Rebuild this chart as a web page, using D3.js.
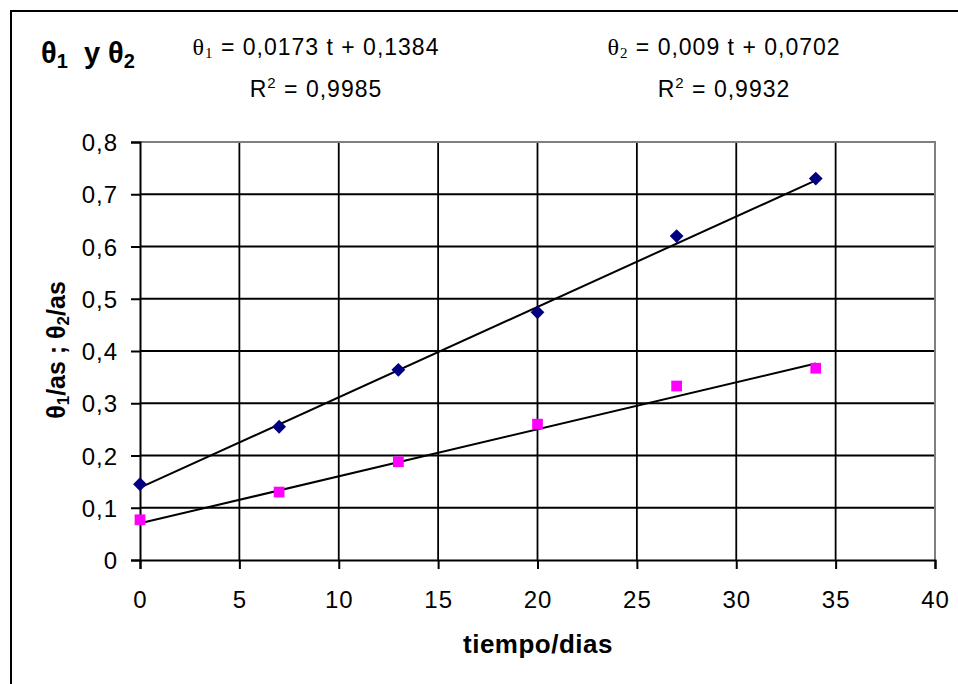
<!DOCTYPE html>
<html>
<head>
<meta charset="utf-8">
<script src="https://d3js.org/d3.v7.min.js"></script>
<style>
  body { margin: 0; background: #fff; }
  text { font-family: Arial, "Liberation Sans", sans-serif; }
</style>
</head>
<body>
<div id="chart-area"></div>
<script>
// data
var tiempo = [0, 7, 13, 20, 27, 34];
var theta1 = [0.145, 0.255, 0.364, 0.474, 0.620, 0.730];
var theta2 = [0.077, 0.130, 0.188, 0.260, 0.333, 0.367];
// trend lines (slope, intercept) as printed on the chart
var trend1 = [0.0173, 0.1384];
var trend2 = [0.009, 0.0702];
var xTicks = [0, 5, 10, 15, 20, 25, 30, 35, 40];
var yTicks = [0, 0.1, 0.2, 0.3, 0.4, 0.5, 0.6, 0.7, 0.8];

var W = 958, H = 684;
var margin = { left: 140, top: 142, right: 23, bottom: 124 };
var width = W - margin.left - margin.right,
    height = H - margin.top - margin.bottom;

var svg = d3.select("#chart-area").append("svg")
    .attr("width", W)
    .attr("height", H);

// outer frame (cut by the picture on right and bottom)
svg.append("rect")
    .attr("x", 11).attr("y", 11)
    .attr("width", W + 20).attr("height", H + 20)
    .attr("fill", "none")
    .attr("stroke", "#000")
    .attr("stroke-width", 2);

var g = svg.append("g")
    .attr("transform", "translate(" + margin.left + "," + margin.top + ")");

var x = d3.scaleLinear().domain([0, 40]).range([0, width]);
var y = d3.scaleLinear().domain([0, 0.8]).range([height, 0]);

var fmt = function(d){ return String(d3.format(".1~f")(d)).replace(".", ","); };

// gridlines
g.selectAll(".hgrid").data(yTicks.slice(1, -1)).enter().append("line")
    .attr("x1", 0).attr("x2", width)
    .attr("y1", function(d){ return y(d); })
    .attr("y2", function(d){ return y(d); })
    .attr("stroke", "#000").attr("stroke-width", 1.8);

g.selectAll(".vgrid").data(xTicks.slice(1, -1)).enter().append("line")
    .attr("y1", 0).attr("y2", height)
    .attr("x1", function(d){ return x(d); })
    .attr("x2", function(d){ return x(d); })
    .attr("stroke", "#000").attr("stroke-width", 1.8);

// plot border top / right (grey)
g.append("path")
    .attr("d", "M0,0H" + width + "V" + height)
    .attr("fill", "none")
    .attr("stroke", "#808080")
    .attr("stroke-width", 2);

// X Axis
var xAxisCall = d3.axisBottom(x)
    .tickValues(xTicks)
    .tickSize(9)
    .tickPadding(22)
    .tickFormat(function(d){ return d; });
var xAxis = g.append("g")
    .attr("class", "x axis")
    .attr("transform", "translate(0," + height + ")")
    .call(xAxisCall);

// Y Axis
var yAxisCall = d3.axisLeft(y)
    .tickValues(yTicks)
    .tickSize(9)
    .tickPadding(13)
    .tickFormat(fmt);
var yAxis = g.append("g")
    .attr("class", "y axis")
    .call(yAxisCall);

[xAxis, yAxis].forEach(function(a){
    a.select(".domain").attr("stroke", "#000").attr("stroke-width", 2);
    a.selectAll(".tick line").attr("stroke", "#000").attr("stroke-width", 2);
    a.selectAll(".tick text")
        .attr("font-size", "24px")
        .attr("letter-spacing", "1px")
        .attr("font-family", "Arial, 'Liberation Sans', sans-serif")
        .attr("fill", "#000");
});
yAxis.selectAll(".tick text").attr("dy", "0.36em");

// trend lines
function trendLine(c) {
    var t0 = d3.min(tiempo), t1 = d3.max(tiempo);
    return [[t0, c[0] * t0 + c[1]], [t1, c[0] * t1 + c[1]]];
}
var line = d3.line()
    .x(function(d){ return x(d[0]); })
    .y(function(d){ return y(d[1]); });

[trend1, trend2].forEach(function(c){
    g.append("path")
        .attr("d", line(trendLine(c)))
        .attr("fill", "none")
        .attr("stroke", "#000")
        .attr("stroke-width", 2);
});

// markers
var diamond = d3.symbol().type(d3.symbolSquare).size(95);
g.selectAll(".p1").data(tiempo).enter().append("path")
    .attr("d", diamond)
    .attr("transform", function(d, i){
        return "translate(" + x(d) + "," + y(theta1[i]) + ") rotate(45)";
    })
    .attr("fill", "#000080");

var square = d3.symbol().type(d3.symbolSquare).size(115);
g.selectAll(".p2").data(tiempo).enter().append("path")
    .attr("d", square)
    .attr("transform", function(d, i){
        return "translate(" + x(d) + "," + y(theta2[i]) + ")";
    })
    .attr("fill", "#FF00FF");

// Title
var title = svg.append("text")
    .attr("x", 41).attr("y", 63)
    .attr("font-size", "29px")
    .attr("font-weight", "bold");
title.append("tspan").text("θ");
title.append("tspan").attr("font-size", "20px").attr("dy", 5).text("1");
title.append("tspan").attr("dy", -5).attr("xml:space", "preserve").text("  y θ");
title.append("tspan").attr("font-size", "20px").attr("dy", 5).text("2");

// equations
var serif = "'Liberation Serif', 'Times New Roman', serif";
function equation(cx, sub, body, r2) {
    var t = svg.append("text")
        .attr("x", cx).attr("y", 55)
        .attr("text-anchor", "middle")
        .attr("font-size", "23px")
        .attr("letter-spacing", "1px");
    t.append("tspan").attr("font-family", serif).attr("font-size", "24px").text("θ");
    t.append("tspan").attr("font-family", serif)
        .attr("font-size", "15px").attr("dy", 3).text(sub);
    t.append("tspan").attr("dy", -3).text(" = " + body);

    var r = svg.append("text")
        .attr("x", cx).attr("y", 97)
        .attr("text-anchor", "middle")
        .attr("font-size", "23px")
        .attr("letter-spacing", "1px");
    r.append("tspan").text("R");
    r.append("tspan").attr("font-size", "15px").attr("dy", -9).text("2");
    r.append("tspan").attr("dy", 9).text(" = " + r2);
}
equation(316, "1", "0,0173 t + 0,1384", "0,9985");
equation(724, "2", "0,009 t + 0,0702", "0,9932");

// X Label
svg.append("text")
    .attr("x", 538).attr("y", 653)
    .attr("font-size", "26px")
    .attr("letter-spacing", "0.5px")
    .attr("font-weight", "bold")
    .attr("text-anchor", "middle")
    .text("tiempo/dias");

// Y Label
var yl = svg.append("text")
    .attr("transform", "translate(65,350) rotate(-90)")
    .attr("font-size", "25px")
    .attr("font-weight", "bold")
    .attr("text-anchor", "middle");
yl.append("tspan").text("θ");
yl.append("tspan").attr("font-size", "17px").attr("dy", 4).text("1");
yl.append("tspan").attr("dy", -4).text("/as ; θ");
yl.append("tspan").attr("font-size", "17px").attr("dy", 4).text("2");
yl.append("tspan").attr("dy", -4).text("/as");
</script>
</body>
</html>
